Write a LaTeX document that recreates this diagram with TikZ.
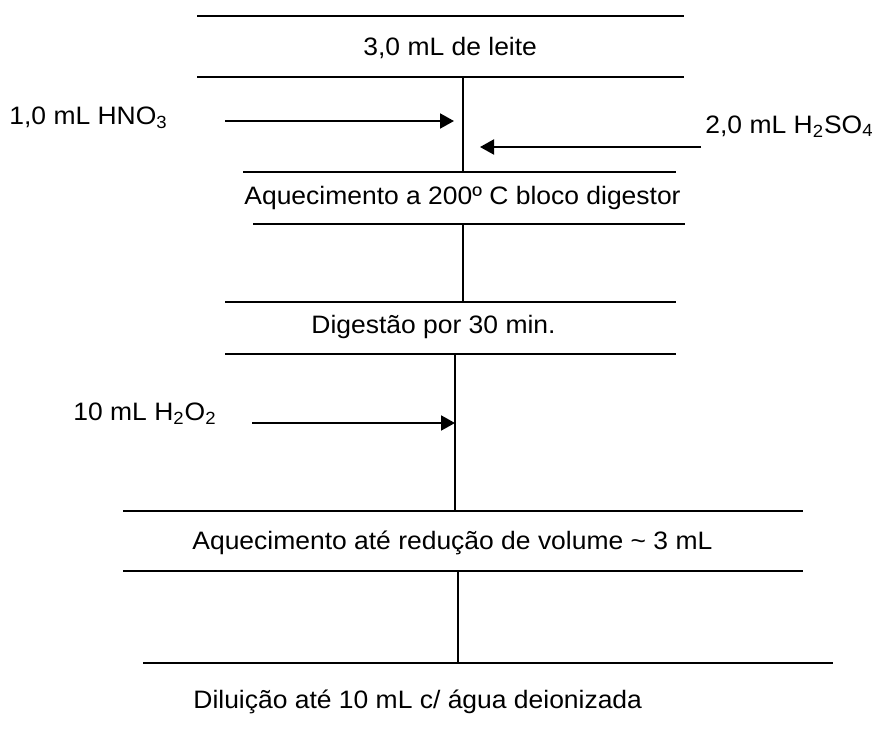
\documentclass[tikz,border=0pt]{standalone}
\usepackage{fontspec}
\setmainfont{Liberation Sans}[FakeStretch=1.05]
\usetikzlibrary{arrows.meta}

\tikzset{
    barra/.style={line width=1pt},
    liga/.style={line width=0.6pt},
    feed/.style={line width=1pt,-{Triangle[length=7pt,width=7.5pt]}},
    etapa/.style={anchor=base west,inner sep=0pt,font=\fontsize{12.6}{15}\selectfont}
}

\begin{document}
\begin{tikzpicture}[x=0.5pt,y=-0.5pt]
\useasboundingbox (0,0) rectangle (874,729);

% ===== Barras horizontais =====
\foreach \xa/\xb/\y in {197/684/16, 197/684/77, 243/676/172, 253/685/224,
    225/676/302, 225/676/354, 123/803/511, 123/803/571, 143/833/663} {
    \draw[barra] (\xa,\y) -- (\xb,\y);
}

% ===== Etapas =====
\node[etapa] (leite) at (363,55) {3,0 mL de leite};
\node[etapa] (bloco) at (244,204) {Aquecimento a 200º C bloco digestor};
\node[etapa] (digest) at (311,333) {Digestão por 30 min.};
\node[etapa] (reduc) at (192,549) {Aquecimento até redução de volume \textasciitilde{} 3 mL};
\node[etapa] (dilui) at (193,708) {Diluição até 10 mL c/ água deionizada};

% ===== Reagentes =====
\node[etapa] (hno) at (9,124) {1,0 mL HNO\textsubscript{3}};
\node[etapa] (hso) at (705,133) {2,0 mL H\textsubscript{2}SO\textsubscript{4}};
\node[etapa] (hoo) at (73,420) {10 mL H\textsubscript{2}O\textsubscript{2}};

% ===== Ligacoes verticais =====
\coordinate (va) at (463,77);  \coordinate (vb) at (463,172);
\coordinate (vc) at (463,224); \coordinate (vd) at (463,302);
\coordinate (ve) at (455,354); \coordinate (vf) at (455,511);
\coordinate (vg) at (458,571); \coordinate (vh) at (458,663);

\draw[liga] (va) -- (vb);
\draw[liga] (vc) -- (vd);
\draw[liga] (ve) -- (vf);
\draw[liga] (vg) -- (vh);

% ===== Adicoes =====
\coordinate (hnoin) at (225,121);  \coordinate (hnoout) at (454,121);
\coordinate (hsoin) at (701,147);  \coordinate (hsoout) at (480,147);
\coordinate (hooin) at (252,423);  \coordinate (hooout) at (455,423);

\draw[feed] (hnoin) -- (hnoout);
\draw[feed] (hsoin) -- (hsoout);
\draw[feed] (hooin) -- (hooout);

\end{tikzpicture}
\end{document}
